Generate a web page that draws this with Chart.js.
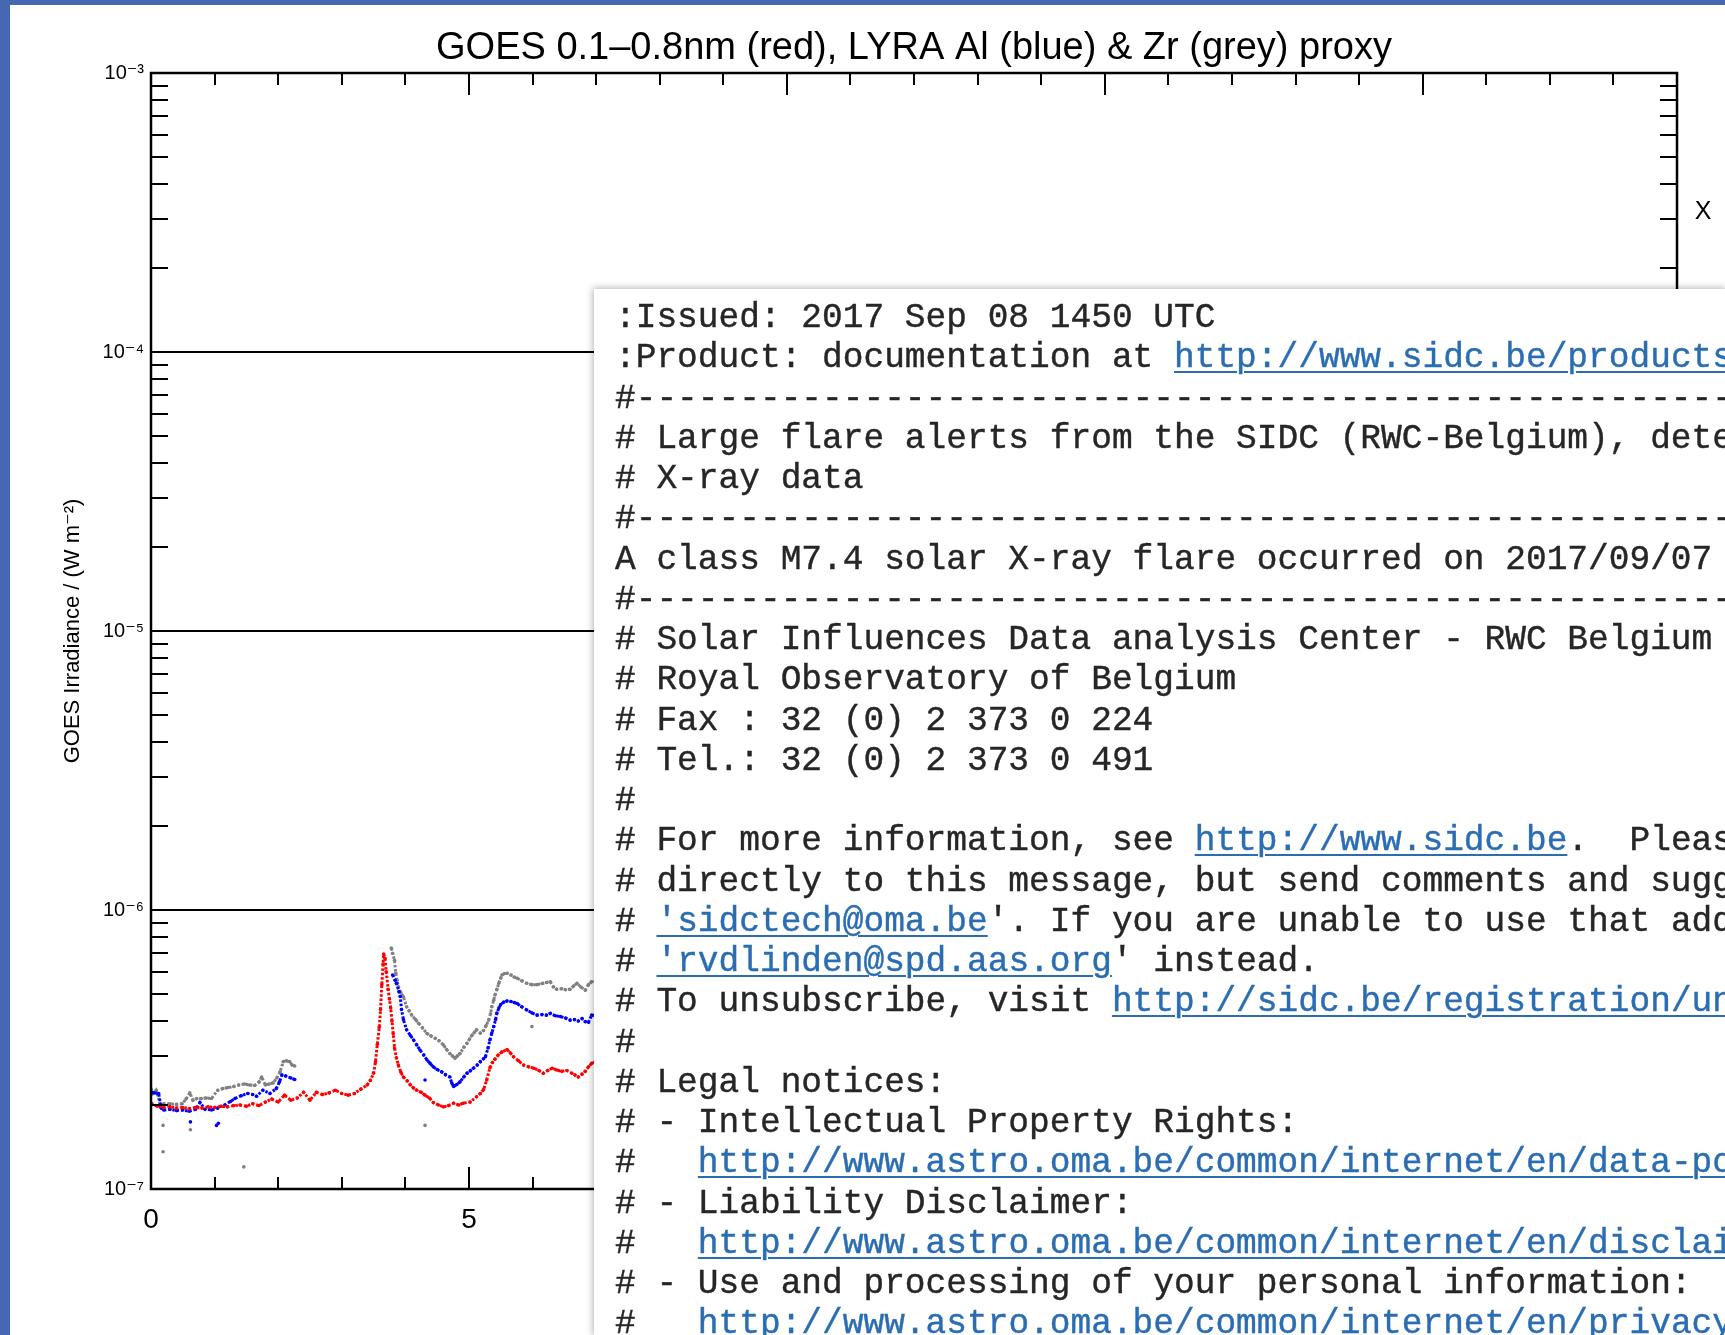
<!DOCTYPE html>
<html>
<head>
<meta charset="utf-8">
<script src="https://cdn.jsdelivr.net/npm/chart.js@4.4.1/dist/chart.umd.min.js"></script>
<style>
html, body { margin: 0; padding: 0; }
body { width: 1725px; height: 1335px; background: #4668b2; position: relative; overflow: hidden; }
#plot { position: absolute; left: 10px; top: 5px; width: 1715px; height: 1330px; background: #fff; }
#mail {
  position: absolute; left: 594px; top: 289px; right: 0; bottom: 0;
  background: #fff; box-shadow: 0 0 7px 1px rgba(0,0,0,0.3); overflow: hidden;
  padding: 9px 0 0 21px;
  font-family: 'Liberation Mono', 'Courier New', monospace; font-size: 34.5px; line-height: 40.25px;
  color: #262626; white-space: pre; -webkit-text-stroke: 0.4px #262626;
}
.lnk { color: #2a6db3; -webkit-text-stroke: 0.4px #2a6db3; text-decoration: underline; text-underline-offset: 4px; text-decoration-thickness: 2px; }
</style>
</head>
<body>
<div id="plot"><canvas id="goesChart" width="1715" height="1330"></canvas></div>
<div id="mail">:Issued: 2017 Sep 08 1450 UTC
:Product: documentation at <span class="lnk">http://www.sidc.be/products/flaremail</span>
#---------------------------------------------------------------------
# Large flare alerts from the SIDC (RWC-Belgium), determined from
# X-ray data
#---------------------------------------------------------------------
A class M7.4 solar X-ray flare occurred on 2017/09/07
#---------------------------------------------------------------------
# Solar Influences Data analysis Center - RWC Belgium
# Royal Observatory of Belgium
# Fax : 32 (0) 2 373 0 224
# Tel.: 32 (0) 2 373 0 491
#
# For more information, see <span class="lnk">http://www.sidc.be</span>.  Please do not reply
# directly to this message, but send comments and suggestions to
# <span class="lnk">'sidctech@oma.be</span>'. If you are unable to use that address, use
# <span class="lnk">'rvdlinden@spd.aas.org</span>' instead.
# To unsubscribe, visit <span class="lnk">http://sidc.be/registration/unsubscribe</span>
#
# Legal notices:
# - Intellectual Property Rights:
#   <span class="lnk">http://www.astro.oma.be/common/internet/en/data-policy</span>
# - Liability Disclaimer:
#   <span class="lnk">http://www.astro.oma.be/common/internet/en/disclaimer</span>
# - Use and processing of your personal information:
#   <span class="lnk">http://www.astro.oma.be/common/internet/en/privacy</span></div>
<script>
// flux values below are in units of 1e-7 W m^-2
const UNIT = 1e-7;

// GOES 0.1-0.8nm (red)
const goesHours = [0.00,0.10,0.20,0.30,0.40,0.50,0.60,0.70,0.80,0.90,1.00,1.10,1.20,1.30,1.40,1.50,1.60,1.70,1.80,1.90,
  2.00,2.10,2.20,2.30,2.40,2.50,2.60,2.70,2.80,2.90,3.00,3.10,3.20,3.30,3.40,3.45,3.50,3.53,3.56,3.59,
  3.61,3.63,3.65,3.66,3.68,3.70,3.73,3.75,3.77,3.79,3.81,3.83,3.86,3.89,3.93,3.97,4.03,4.08,4.13,4.18,
  4.25,4.31,4.38,4.44,4.52,4.60,4.68,4.76,4.84,4.91,5.02,5.12,5.18,5.23,5.28,5.33,5.37,5.41,5.46,5.52,
  5.60,5.65,5.70,5.78,5.86,5.94,6.02,6.10,6.17,6.24,6.31,6.38,6.46,6.54,6.62,6.67,6.72,6.78,6.83,6.88,6.93,7.00];
const goesFlux = [2.03,1.98,1.96,1.97,1.95,1.96,1.94,1.96,1.95,1.97,1.96,1.98,1.97,1.99,2.00,1.98,2.02,1.99,2.05,2.10,
  2.05,2.17,2.08,2.12,2.22,2.08,2.22,2.18,2.21,2.26,2.20,2.17,2.20,2.28,2.36,2.45,2.60,2.85,3.30,3.80,
  4.40,5.40,6.40,6.95,6.70,6.00,5.20,4.80,4.45,4.00,3.60,3.20,2.95,2.78,2.62,2.52,2.44,2.36,2.30,2.26,
  2.22,2.17,2.12,2.04,2.00,1.97,1.99,2.03,2.00,2.03,2.05,2.14,2.20,2.27,2.46,2.72,2.84,2.92,3.02,3.10,
  3.16,3.08,2.98,2.88,2.78,2.74,2.71,2.66,2.60,2.66,2.71,2.67,2.64,2.66,2.60,2.56,2.52,2.58,2.64,2.74,2.82,2.86];

// LYRA Al proxy (blue), null = data gap
const alHours = [0.00,0.05,0.12,0.16,0.20,0.30,0.40,0.50,0.60,0.70,0.77,0.85,0.95,1.05,1.16,1.25,1.32,1.42,1.52,1.60,
  1.66,1.76,1.87,1.97,2.02,2.06,2.12,2.20,2.26,2.30,
  3.80,3.84,3.86,3.90,3.92,3.94,3.97,4.02,4.08,4.13,4.18,4.23,4.29,4.34,4.39,4.44,4.50,4.57,4.63,4.70,
  4.73,4.76,4.81,4.86,4.92,4.97,5.02,5.07,5.13,5.18,5.23,5.26,5.30,5.33,5.36,5.39,5.42,5.44,5.47,5.50,
  5.55,5.60,5.66,5.71,5.76,5.83,5.91,5.99,6.07,6.15,6.22,6.28,6.36,6.44,6.52,6.59,6.66,6.72,6.78,6.83,6.88,6.93,7.00];
const alFlux = [2.22,2.21,2.20,1.95,1.92,1.93,1.91,1.92,1.90,1.93,2.04,1.93,1.92,1.95,2.00,2.06,2.11,2.16,2.20,2.18,
  2.15,2.26,2.20,2.29,2.42,2.56,2.54,2.50,2.47,null,
  5.85,5.60,5.46,5.10,4.90,4.40,4.05,3.72,3.55,3.42,3.28,3.15,3.02,2.90,2.82,2.74,2.68,2.63,2.57,2.52,
  2.40,2.33,2.37,2.42,2.52,2.60,2.65,2.71,2.78,2.86,2.93,2.98,3.20,3.42,3.62,3.82,4.05,4.27,4.45,4.58,
  4.68,4.72,4.70,4.66,4.62,4.50,4.38,4.28,4.20,4.22,4.20,4.26,4.18,4.15,4.10,4.03,4.05,4.00,4.08,3.98,3.96,4.20,4.18];

// LYRA Zr proxy (grey), null = data gap
const zrHours = [0.00,0.03,0.08,0.14,0.20,0.30,0.40,0.49,0.55,0.61,0.66,0.72,0.79,0.87,0.95,1.05,1.13,1.21,1.30,1.38,
  1.47,1.55,1.63,1.70,1.74,1.80,1.86,1.92,1.98,2.03,2.08,2.13,2.18,2.22,2.26,2.30,
  3.78,3.80,3.83,3.85,3.87,3.89,3.93,3.97,4.02,4.06,4.10,4.16,4.21,4.27,4.34,4.40,4.47,4.53,4.60,4.65,
  4.70,4.74,4.78,4.82,4.86,4.92,4.97,5.01,5.05,5.09,5.12,5.18,5.23,5.27,5.31,5.34,5.36,5.39,5.41,5.44,
  5.47,5.50,5.52,5.56,5.60,5.66,5.71,5.76,5.83,5.91,5.99,6.07,6.15,6.22,6.28,6.33,6.38,6.46,6.52,6.59,
  6.65,6.70,6.76,6.83,6.88,6.93,7.00];
const zrFlux = [2.28,2.20,2.26,2.03,2.02,2.02,2.01,2.02,2.10,2.21,2.08,2.11,2.11,2.12,2.11,2.26,2.29,2.31,2.33,2.36,
  2.38,2.36,2.35,2.42,2.52,2.36,2.38,2.40,2.50,2.63,2.86,2.88,2.86,2.78,2.76,null,
  7.30,7.00,6.60,5.93,5.60,5.31,5.05,4.89,4.50,4.35,4.20,4.05,3.92,3.78,3.61,3.54,3.47,3.40,3.28,3.16,
  3.06,3.00,2.94,3.00,3.06,3.22,3.33,3.45,3.56,3.65,3.72,3.62,3.70,3.85,4.03,4.25,4.50,4.75,4.96,5.20,
  5.46,5.70,5.85,5.92,5.93,5.85,5.75,5.69,5.58,5.46,5.40,5.40,5.45,5.50,5.53,5.30,5.20,5.22,5.18,5.20,
  5.35,5.46,5.30,5.16,5.40,5.53,5.55];

// isolated samples away from the traces
const alStrayHours = [0.62, 1.03, 1.06, 4.31];
const alStrayFlux = [1.74, 1.69, 1.72, 2.46];
const zrStrayHours = [0.19, 0.19, 0.62, 1.46, 4.31, 5.99];
const zrStrayFlux = [1.69, 1.36, 1.63, 1.20, 1.69, 3.82];

// axes
const hourTicks = [0,1,2,3,4,5,6,7,8,9,10,11,12,13,14,15,16,17,18,19,20,21,22,23,24];
const hourLabels = {0: '0', 5: '5', 10: '10', 15: '15', 20: '20'};
const decades = [1e-7, 1e-6, 1e-5, 1e-4, 1e-3];
const decadeLabels = ['10\u207B\u2077', '10\u207B\u2076', '10\u207B\u2075', '10\u207B\u2074', '10\u207B\u00B3'];
const classLetters = ['B', 'C', 'M', 'X'];

const LABEL_FONT = "'Liberation Sans', 'DejaVu Sans', sans-serif";

function points(hours, flux) {
  return hours.map((h, i) => ({x: h, y: flux[i] === null ? null : flux[i] * UNIT}));
}

function isDecade(v) {
  return decades.some(d => Math.abs(v - d) / d < 1e-6);
}

// minor log ticks 2..9 inside each decade
const logTicks = [];
for (let i = 0; i < decades.length; i++) {
  logTicks.push(decades[i]);
  if (i < decades.length - 1) {
    for (let m = 2; m <= 9; m++) logTicks.push(m * decades[i]);
  }
}

const frameTicks = {
  id: 'frameTicks',
  afterDraw(chart) {
    const {ctx, chartArea: a} = chart;
    const x = chart.scales.x, y = chart.scales.y;
    ctx.save();
    ctx.strokeStyle = '#000';
    ctx.lineWidth = 2;
    ctx.beginPath();
    x.ticks.forEach(t => {
      const px = Math.round(x.getPixelForValue(t.value));
      const len = t.value % 5 === 0 ? 22 : 12;
      ctx.moveTo(px, a.bottom); ctx.lineTo(px, a.bottom - len);
      ctx.moveTo(px, a.top); ctx.lineTo(px, a.top + len);
    });
    y.ticks.forEach(t => {
      if (isDecade(t.value)) return;
      const py = Math.round(y.getPixelForValue(t.value));
      ctx.moveTo(a.left, py); ctx.lineTo(a.left + 17, py);
      ctx.moveTo(a.right, py); ctx.lineTo(a.right - 17, py);
    });
    ctx.stroke();
    ctx.lineWidth = 2.5;
    ctx.strokeRect(a.left, a.top, a.right - a.left, a.bottom - a.top);
    ctx.fillStyle = '#000';
    ctx.font = '25px ' + LABEL_FONT;
    ctx.textAlign = 'center';
    ctx.textBaseline = 'middle';
    for (let i = 0; i < classLetters.length; i++) {
      const mid = Math.sqrt(decades[i] * decades[i + 1]);
      ctx.fillText(classLetters[i], a.right + 26, y.getPixelForValue(mid));
    }
    ctx.restore();
  }
};

const traceStyle = {showLine: true, spanGaps: false, borderWidth: 3, borderDash: [2.5, 1.8], pointRadius: 1.8, pointBorderWidth: 0, tension: 0};

new Chart(document.getElementById('goesChart'), {
  type: 'scatter',
  data: {
    datasets: [
      Object.assign({label: 'GOES', data: points(goesHours, goesFlux), borderColor: '#ff0000', backgroundColor: '#ff0000'}, traceStyle),
      Object.assign({label: 'Al', data: points(alHours, alFlux), borderColor: '#0000ff', backgroundColor: '#0000ff'}, traceStyle),
      Object.assign({label: 'Zr', data: points(zrHours, zrFlux), borderColor: '#808080', backgroundColor: '#808080'}, traceStyle),
      {label: 'Al stray', data: points(alStrayHours, alStrayFlux), showLine: false, pointRadius: 1.8, pointBorderWidth: 0, backgroundColor: '#0000ff'},
      {label: 'Zr stray', data: points(zrStrayHours, zrStrayFlux), showLine: false, pointRadius: 1.8, pointBorderWidth: 0, backgroundColor: '#808080'}
    ]
  },
  options: {
    responsive: false,
    animation: false,
    events: [],
    layout: {padding: {left: 0, right: 48, top: 0, bottom: 0}},
    plugins: {
      legend: {display: false},
      tooltip: {enabled: false},
      title: {
        display: true,
        fullSize: false,
        text: 'GOES 0.1\u20130.8nm (red), LYRA Al (blue) & Zr (grey) proxy',
        color: '#000',
        font: {family: LABEL_FONT, size: 38, weight: 'normal', lineHeight: 1.2},
        padding: {top: 21, bottom: 1.4}
      }
    },
    scales: {
      x: {
        type: 'linear',
        min: 0,
        max: 24,
        afterBuildTicks: s => { s.ticks = hourTicks.map(v => ({value: v})); },
        afterFit: s => { s.height = 146; },
        grid: {display: false, drawTicks: false},
        border: {display: false},
        ticks: {
          autoSkip: false,
          maxRotation: 0,
          padding: 14,
          color: '#000',
          font: {family: LABEL_FONT, size: 28},
          callback: v => hourLabels[v] || ''
        }
      },
      y: {
        type: 'logarithmic',
        min: 1e-7,
        max: 1e-3,
        afterBuildTicks: s => { s.ticks = logTicks.map(v => ({value: v})); },
        afterFit: s => { s.width = 141; },
        grid: {
          drawTicks: false,
          lineWidth: 2,
          color: c => (c.tick && isDecade(c.tick.value)) ? '#000' : 'rgba(0,0,0,0)'
        },
        border: {display: false},
        ticks: {
          autoSkip: false,
          padding: 7,
          color: '#000',
          font: {family: LABEL_FONT, size: 20},
          callback: v => {
            const i = decades.findIndex(d => Math.abs(v - d) / d < 1e-6);
            return i >= 0 ? decadeLabels[i] : '';
          }
        },
        title: {
          display: true,
          text: 'GOES Irradiance / (W m\u207B\u00B2)',
          color: '#000',
          font: {family: LABEL_FONT, size: 22},
          padding: {top: 50, bottom: 0}
        }
      }
    }
  },
  plugins: [frameTicks]
});
</script>
</body>
</html>
